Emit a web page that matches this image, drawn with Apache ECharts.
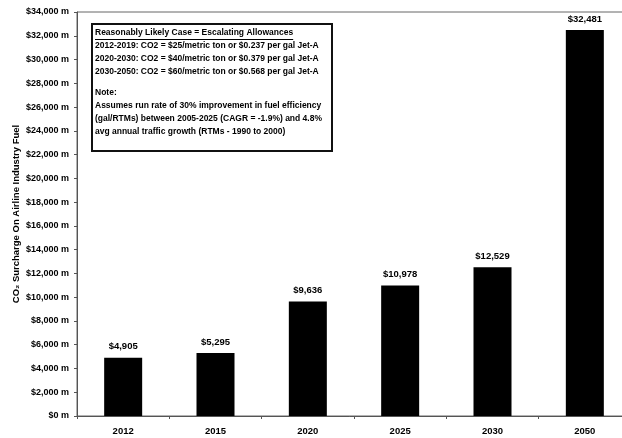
<!DOCTYPE html>
<html>
<head>
<meta charset="utf-8">
<script src="https://cdn.jsdelivr.net/npm/echarts@6/dist/echarts.min.js"></script>
<style>
  html, body { margin: 0; padding: 0; background: #fff; }
  #chart { width: 622px; height: 438px; }
</style>
</head>
<body>
<div id="chart"></div>
<script>
// Projected CO2 surcharge on airline fuel, $ millions
const years = ['2012', '2015', '2020', '2025', '2030', '2050'];
const surcharge = [4905, 5295, 9636, 10978, 12529, 32481];
const yMin = 0;
const yMax = 34000;
const yStep = 2000;

const noteHeading = 'Reasonably Likely Case = Escalating Allowances';
const noteLines = [
  '2012-2019: CO2 = $25/metric ton or $0.237 per gal Jet-A',
  '2020-2030: CO2 = $40/metric ton or $0.379 per gal Jet-A',
  '2030-2050: CO2 = $60/metric ton or $0.568 per gal Jet-A'
];
const assumptionLines = [
  'Note:',
  'Assumes run rate of 30% improvement in fuel efficiency',
  '(gal/RTMs) between 2005-2025 (CAGR = -1.9%) and 4.8%',
  'avg annual traffic growth (RTMs - 1990 to 2000)'
];

function commas(v) {
  return String(v).replace(/\B(?=(\d{3})+(?!\d))/g, ',');
}

const font = 'Liberation Sans, Arial, sans-serif';
const boxFontSize = 8.5;
const chart = echarts.init(document.getElementById('chart'));

// Assumptions box: frame, then its text lines on top
const boxItems = [{
  type: 'rect',
  shape: { x: 92, y: 24, width: 240, height: 127 },
  style: { fill: '#fff', stroke: '#111', lineWidth: 2 },
  z: 20
}];
function addLine(t, y) {
  boxItems.push({
    type: 'text', x: 95, y: y - 5, z: 21,
    style: { text: t, fontSize: boxFontSize, fontWeight: 'bold', fontFamily: font, fill: '#000' }
  });
}
addLine(noteHeading, 33);
const headW = echarts.format.getTextRect
  ? echarts.format.getTextRect(noteHeading, 'bold ' + boxFontSize + 'px ' + font).width
  : 198;
boxItems.push({
  type: 'line', z: 21, shape: { x1: 95, y1: 39.5, x2: 95 + headW, y2: 39.5 },
  style: { stroke: '#000', lineWidth: 1 }
});
noteLines.forEach((t, i) => addLine(t, 46 + i * 13));
assumptionLines.forEach((t, i) => addLine(t, 93 + i * 13));

chart.setOption({
  backgroundColor: '#fff',
  animation: false,
  grid: {
    left: 77, top: 12, height: 404, width: 554,
    outerBoundsMode: 'none',
    containLabel: false,
    show: true, borderColor: '#666', borderWidth: 1
  },
  xAxis: {
    type: 'category',
    data: years,
    axisLine: { lineStyle: { color: '#555', width: 1 } },
    axisTick: { show: true, length: 3, lineStyle: { color: '#555' } },
    axisLabel: { color: '#000', fontWeight: 'bold', fontSize: 9.5, fontFamily: font, margin: 10 }
  },
  yAxis: {
    type: 'value',
    min: yMin, max: yMax, interval: yStep,
    name: 'CO\u2082 Surcharge On Airline Industry Fuel',
    nameLocation: 'middle',
    nameGap: 56,
    nameMoveOverlap: false,
    nameRotate: 90,
    nameTextStyle: { color: '#000', fontWeight: 'bold', fontSize: 9.5, fontFamily: font },
    splitLine: { show: false },
    axisLine: { show: true, lineStyle: { color: '#555', width: 1 } },
    axisTick: { show: true, length: 3, lineStyle: { color: '#555' } },
    axisLabel: {
      color: '#000', fontWeight: 'bold', fontSize: 9, fontFamily: font, margin: 8,
      formatter: v => '$' + commas(v) + ' m'
    }
  },
  series: [{
    type: 'bar',
    data: surcharge,
    barWidth: 38,
    itemStyle: { color: '#000' },
    label: {
      show: true, position: 'top', distance: 6,
      color: '#000', fontWeight: 'bold', fontSize: 9.5, fontFamily: font,
      formatter: p => '$' + commas(p.value)
    }
  }],
  graphic: boxItems
});
</script>
</body>
</html>
